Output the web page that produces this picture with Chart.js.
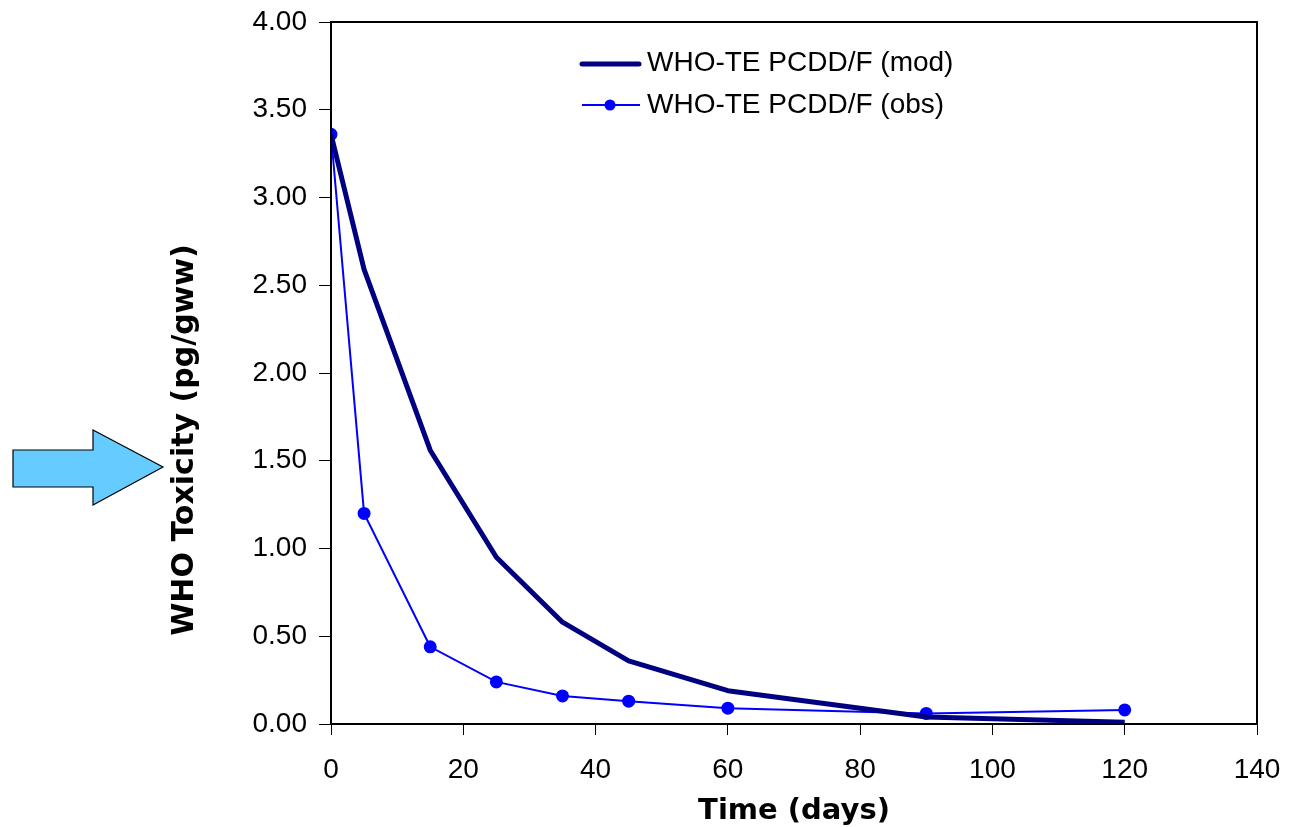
<!DOCTYPE html>
<html>
<head>
<meta charset="utf-8">
<script src="https://cdn.jsdelivr.net/npm/chart.js@4"></script>
<style>
  html, body { margin: 0; padding: 0; background: #fff; }
  #wrap { width: 1297px; height: 827px; }
</style>
</head>
<body>
<div id="wrap"><canvas id="grafico"></canvas></div>
<script>
// dados
const dias = [0, 5, 15, 25, 35, 45, 60, 90, 120];
const modValores = [3.36, 2.59, 1.56, 0.95, 0.58, 0.36, 0.19, 0.04, 0.01];
const obsValores = [3.36, 1.20, 0.44, 0.24, 0.16, 0.13, 0.09, 0.06, 0.08];
const rotulos = ["WHO-TE PCDD/F (mod)", "WHO-TE PCDD/F (obs)"];
const tituloX = "Time (days)";
const tituloY = "WHO Toxicity (pg/gww)";

const pontos = (vals) => dias.map((d, i) => ({ x: d, y: vals[i] }));

// moldura, seta, titulo Y e legenda
const extras = {
  id: "extras",
  afterDraw(chart) {
    const { ctx, chartArea: a } = chart;
    ctx.save();
    // moldura
    ctx.strokeStyle = "#000";
    ctx.lineWidth = 2;
    ctx.strokeRect(a.left, a.top, a.right - a.left, a.bottom - a.top);

    // seta
    ctx.beginPath();
    ctx.moveTo(13, 450);
    ctx.lineTo(93, 450);
    ctx.lineTo(93, 430);
    ctx.lineTo(163, 467);
    ctx.lineTo(93, 505);
    ctx.lineTo(93, 487);
    ctx.lineTo(13, 487);
    ctx.closePath();
    ctx.fillStyle = "#66CCFF";
    ctx.fill();
    ctx.lineWidth = 1.2;
    ctx.strokeStyle = "#000";
    ctx.stroke();

    // titulo Y
    ctx.translate(185, 440);
    ctx.rotate(-Math.PI / 2);
    ctx.font = "bold 30px 'DejaVu Sans'";
    ctx.fillStyle = "#000";
    ctx.textAlign = "center";
    ctx.textBaseline = "middle";
    ctx.fillText(tituloY, 0, 0);
    ctx.setTransform(1, 0, 0, 1, 0, 0);

    // legenda
    const ds = chart.data.datasets;
    ctx.font = "28px 'Liberation Sans', Arial";
    ctx.textAlign = "left";
    ctx.textBaseline = "middle";
    ctx.lineCap = "round";
    ctx.strokeStyle = ds[0].borderColor;
    ctx.lineWidth = ds[0].borderWidth;
    ctx.beginPath();
    ctx.moveTo(582, 64);
    ctx.lineTo(639, 64);
    ctx.stroke();
    ctx.fillStyle = "#000";
    ctx.fillText(ds[0].label, 647, 63);

    ctx.lineCap = "butt";
    ctx.strokeStyle = ds[1].borderColor;
    ctx.lineWidth = ds[1].borderWidth;
    ctx.beginPath();
    ctx.moveTo(582, 105);
    ctx.lineTo(640, 105);
    ctx.stroke();
    ctx.fillStyle = ds[1].pointBackgroundColor;
    ctx.beginPath();
    ctx.arc(610, 105, 5.5, 0, Math.PI * 2);
    ctx.fill();
    ctx.fillStyle = "#000";
    ctx.fillText(ds[1].label, 647, 105);
    ctx.restore();
  }
};

const ctx = document.getElementById("grafico").getContext("2d");
new Chart(ctx, {
  type: "line",
  data: {
    datasets: [
      {
        label: rotulos[0],
        data: pontos(modValores),
        borderColor: "#000080",
        borderWidth: 5,
        pointRadius: 0,
        tension: 0,
        borderJoinStyle: "round"
      },
      {
        label: rotulos[1],
        data: pontos(obsValores),
        borderColor: "#0000FF",
        backgroundColor: "#0000FF",
        pointBackgroundColor: "#0000FF",
        pointBorderColor: "#0000FF",
        borderWidth: 2,
        pointRadius: 5.5,
        tension: 0
      }
    ]
  },
  options: {
    responsive: true,
    maintainAspectRatio: false,
    animation: false,
    layout: { padding: { left: 0, top: 22, right: 40, bottom: 0 } },
    plugins: {
      legend: { display: false },
      tooltip: { enabled: false }
    },
    scales: {
      x: {
        type: "linear",
        min: 0,
        max: 140,
        ticks: {
          stepSize: 20,
          color: "#000",
          font: { family: "'Liberation Sans', Arial", size: 28 },
          padding: 18
        },
        grid: { drawOnChartArea: false, drawTicks: true, tickLength: 11, color: "#000", lineWidth: 1 },
        border: { color: "#000", width: 2 },
        title: {
          display: true,
          text: tituloX,
          color: "#000",
          font: { family: "'DejaVu Sans'", size: 29, weight: "bold", lineHeight: 1.1 },
          padding: { top: 0, bottom: 0 }
        },
        afterFit(s) { s.height = 103; s.paddingRight = 0; s.paddingLeft = 0; }
      },
      y: {
        min: 0,
        max: 4,
        ticks: {
          stepSize: 0.5,
          color: "#000",
          font: { family: "'Liberation Sans', Arial", size: 28, lineHeight: 0.7 },
          padding: 12,
          callback: (v) => Number(v).toFixed(2)
        },
        grid: { drawOnChartArea: false, drawTicks: true, tickLength: 12, color: "#000", lineWidth: 1 },
        border: { color: "#000", width: 2 },
        afterFit(s) { s.width = 331; }
      }
    }
  },
  plugins: [extras]
});
</script>
</body>
</html>
